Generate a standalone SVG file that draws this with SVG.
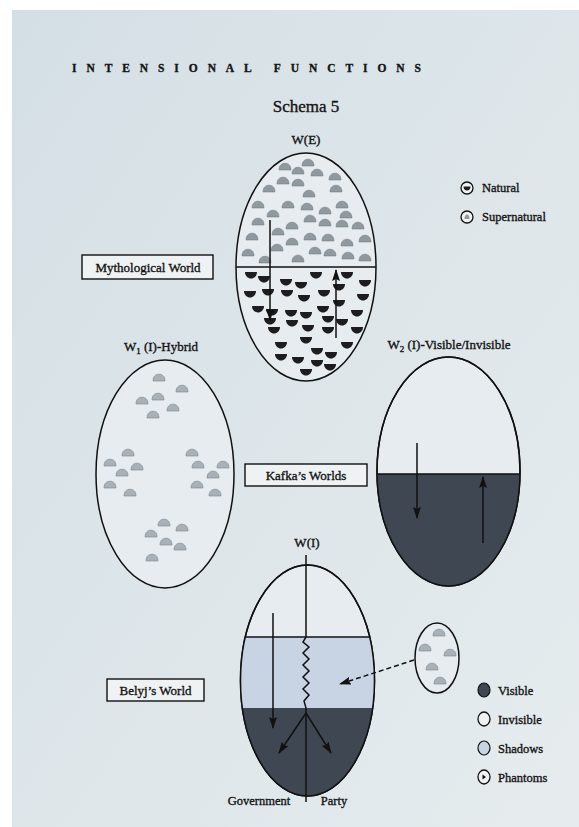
<svg xmlns="http://www.w3.org/2000/svg" width="579" height="827" viewBox="0 0 579 827">
<defs>
<linearGradient id="bg" x1="0" y1="0" x2="1" y2="1">
<stop offset="0" stop-color="#d4dfe5"/>
<stop offset="1" stop-color="#e6ecee"/>
</linearGradient>
<path id="dome" d="M-6,3 C-6,-1.5 -3.5,-3.8 0,-3.8 C3.5,-3.8 6,-1.5 6,3 Z"/>
<path id="bowl" d="M-6,-3 H6 C6,1 3,3.5 0,3.5 C-3,3.5 -6,1 -6,-3 Z"/>
<marker id="ah" viewBox="0 0 12 8" refX="11" refY="4" markerWidth="12" markerHeight="8" markerUnits="userSpaceOnUse" orient="auto">
<path d="M0,0 L12,4 L0,8 L2,4 Z" fill="#111"/>
</marker>
<clipPath id="clipW2"><ellipse cx="448.5" cy="471.5" rx="71.5" ry="114.5"/></clipPath>
<clipPath id="clipWI"><ellipse cx="307.5" cy="680.5" rx="67" ry="115.5"/></clipPath>
</defs>
<style>
.t{font-family:"Liberation Serif","Times New Roman",serif;fill:#141414;stroke:#141414;stroke-width:0.35}
.lab{font-size:13px;text-anchor:middle}
.box{fill:#eef2f3;stroke:#111;stroke-width:1.4}
.eo{fill:#e6ecef;stroke:#111;stroke-width:1.5}
.eline{fill:none;stroke:#111;stroke-width:1.5}
.sup use{fill:#8f999f;stroke:#6f787d;stroke-width:0.5}
.sup2 use{fill:#a7b1b7;stroke:#7c858a;stroke-width:0.6}
.nat use{fill:#1d1d20}
.arr{stroke:#111;stroke-width:1.5;fill:none;marker-end:url(#ah)}
.leg{font-size:12.5px}
.lc{fill:#eef2f3;stroke:#111;stroke-width:1.3}
</style>
<rect width="579" height="827" fill="#ffffff"/>
<rect x="12" y="10" width="567" height="817" fill="url(#bg)"/>

<g id="header">
<text class="t" x="72" y="72" font-size="11.5" font-weight="bold" textLength="349" lengthAdjust="spacing">INTENSIONAL   FUNCTIONS</text>
<text class="t" x="306" y="112" font-size="17" text-anchor="middle">Schema 5</text>
</g>

<g id="world-E">
<text class="t lab" x="306" y="144">W(E)</text>
<ellipse class="eo" cx="306" cy="267" rx="70" ry="114"/>
<line class="eline" x1="236" y1="267" x2="376" y2="267"/>
<g class="sup">
<use href="#dome" x="308" y="163"/><use href="#dome" x="285" y="167"/><use href="#dome" x="298" y="171"/><use href="#dome" x="317" y="173"/><use href="#dome" x="335" y="177"/><use href="#dome" x="283" y="181"/><use href="#dome" x="298" y="183"/><use href="#dome" x="269" y="189"/><use href="#dome" x="309" y="194"/><use href="#dome" x="336" y="189"/><use href="#dome" x="258" y="205"/><use href="#dome" x="288" y="205"/><use href="#dome" x="307" y="207"/><use href="#dome" x="325" y="211"/><use href="#dome" x="342" y="205"/><use href="#dome" x="273" y="214"/><use href="#dome" x="346" y="215"/><use href="#dome" x="258" y="222"/><use href="#dome" x="292" y="226"/><use href="#dome" x="310" y="219"/><use href="#dome" x="325" y="223"/><use href="#dome" x="342" y="224"/><use href="#dome" x="358" y="226"/><use href="#dome" x="278" y="232"/><use href="#dome" x="252" y="237"/><use href="#dome" x="310" y="237"/><use href="#dome" x="328" y="238"/><use href="#dome" x="347" y="243"/><use href="#dome" x="365" y="239"/><use href="#dome" x="292" y="242"/><use href="#dome" x="277" y="248"/><use href="#dome" x="248" y="253"/><use href="#dome" x="315" y="251"/><use href="#dome" x="330" y="253"/><use href="#dome" x="348" y="256"/><use href="#dome" x="265" y="260"/><use href="#dome" x="298" y="259"/><use href="#dome" x="365" y="258"/>
</g>
<g class="nat">
<use href="#bowl" x="251" y="275"/><use href="#bowl" x="264" y="279"/><use href="#bowl" x="286" y="282"/><use href="#bowl" x="301" y="285"/><use href="#bowl" x="316" y="275"/><use href="#bowl" x="347" y="275"/><use href="#bowl" x="365" y="283"/><use href="#bowl" x="250" y="294"/><use href="#bowl" x="268" y="292"/><use href="#bowl" x="287" y="293"/><use href="#bowl" x="304" y="298"/><use href="#bowl" x="324" y="293"/><use href="#bowl" x="339" y="287"/><use href="#bowl" x="363" y="297"/><use href="#bowl" x="258" y="309"/><use href="#bowl" x="272" y="312"/><use href="#bowl" x="291" y="313"/><use href="#bowl" x="306" y="315"/><use href="#bowl" x="323" y="309"/><use href="#bowl" x="339" y="303"/><use href="#bowl" x="357" y="313"/><use href="#bowl" x="270" y="321"/><use href="#bowl" x="292" y="323"/><use href="#bowl" x="308" y="328"/><use href="#bowl" x="328" y="319"/><use href="#bowl" x="342" y="322"/><use href="#bowl" x="274" y="330"/><use href="#bowl" x="328" y="330"/><use href="#bowl" x="357" y="330"/><use href="#bowl" x="306" y="340"/><use href="#bowl" x="281" y="345"/><use href="#bowl" x="317" y="351"/><use href="#bowl" x="331" y="355"/><use href="#bowl" x="347" y="345"/><use href="#bowl" x="281" y="357"/><use href="#bowl" x="298" y="360"/><use href="#bowl" x="317" y="363"/><use href="#bowl" x="330" y="367"/><use href="#bowl" x="306" y="372"/>
</g>
</g>

<g id="legend-top">
<circle class="lc" cx="467" cy="188" r="6"/>
<path d="M463.5,186.5 H470.5 C470.5,189 469,190.5 467,190.5 C465,190.5 463.5,189 463.5,186.5 Z" fill="#1d1d20"/>
<text class="t leg" x="482" y="192">Natural</text>
<circle class="lc" cx="467" cy="217" r="6"/>
<path d="M464.5,219 C464.5,216 465.5,214.5 467,214.5 C468.5,214.5 469.5,216 469.5,219 Z" fill="#8f999f"/>
<text class="t leg" x="482" y="221">Supernatural</text>
</g>

<g id="label-mythological">
<rect class="box" x="82" y="255" width="131" height="24"/>
<text class="t" x="148" y="272" font-size="13" text-anchor="middle">Mythological World</text>
</g>

<g id="world-W1">
<text class="t lab" x="161" y="351">W<tspan font-size="9" dy="3">1</tspan><tspan dy="-3"> (I)-Hybrid</tspan></text>
<ellipse class="eo" cx="165" cy="474" rx="69" ry="114"/>
<g class="sup2">
<use href="#dome" x="159" y="378"/><use href="#dome" x="182" y="389"/><use href="#dome" x="142" y="401"/><use href="#dome" x="158" y="397"/><use href="#dome" x="173" y="408"/><use href="#dome" x="153" y="415"/><use href="#dome" x="128" y="453"/><use href="#dome" x="110" y="463"/><use href="#dome" x="122" y="473"/><use href="#dome" x="137" y="467"/><use href="#dome" x="110" y="485"/><use href="#dome" x="130" y="493"/><use href="#dome" x="192" y="453"/><use href="#dome" x="198" y="465"/><use href="#dome" x="223" y="465"/><use href="#dome" x="213" y="475"/><use href="#dome" x="197" y="485"/><use href="#dome" x="215" y="493"/><use href="#dome" x="164" y="523"/><use href="#dome" x="182" y="528"/><use href="#dome" x="151" y="534"/><use href="#dome" x="166" y="542"/><use href="#dome" x="180" y="547"/><use href="#dome" x="152" y="558"/>
</g>
</g>

<g id="world-W2">
<text class="t lab" x="449" y="349">W<tspan font-size="9" dy="3">2</tspan><tspan dy="-3"> (I)-Visible/Invisible</tspan></text>
<ellipse class="eo" cx="448.5" cy="471.5" rx="71.5" ry="114.5"/>
<rect x="370" y="474" width="160" height="120" fill="#3f4752" clip-path="url(#clipW2)"/>
<line class="eline" x1="377" y1="474" x2="520" y2="474" clip-path="url(#clipW2)"/>
<ellipse cx="448.5" cy="471.5" rx="71.5" ry="114.5" fill="none" stroke="#111" stroke-width="1.5"/>
</g>

<g id="label-kafka">
<rect class="box" x="245" y="464" width="122" height="22"/>
<text class="t" x="306" y="480" font-size="13" text-anchor="middle">Kafka’s Worlds</text>
</g>

<g id="world-I">
<text class="t lab" x="307" y="547">W(I)</text>
<ellipse class="eo" cx="307.5" cy="680.5" rx="67" ry="115.5"/>
<rect x="238" y="637" width="140" height="71" fill="#c8d3e4" clip-path="url(#clipWI)"/>
<rect x="238" y="708" width="140" height="90" fill="#3f4752" clip-path="url(#clipWI)"/>
<line class="eline" x1="238" y1="637" x2="378" y2="637" clip-path="url(#clipWI)"/>
<ellipse cx="307.5" cy="680.5" rx="67" ry="115.5" fill="none" stroke="#111" stroke-width="1.5"/>
<polyline class="eline" points="306,555 306,637 303,642 309,647 303,653 309,659 303,665 309,671 303,677 309,683 303,689 309,695 304,701 306,708 306,802"/>
<text class="t" x="259" y="805" font-size="12.5" text-anchor="middle">Government</text>
<text class="t" x="334" y="805" font-size="12.5" text-anchor="middle">Party</text>
</g>

<g id="label-belyj">
<rect class="box" x="107" y="679" width="97" height="22"/>
<text class="t" x="155.5" y="695" font-size="13" text-anchor="middle">Belyj’s World</text>
</g>

<g id="phantoms">
<ellipse class="eo" cx="437" cy="658" rx="22" ry="35"/>
<g class="sup2">
<use href="#dome" x="439" y="633"/><use href="#dome" x="425" y="648"/><use href="#dome" x="450" y="653"/><use href="#dome" x="432" y="667"/><use href="#dome" x="440" y="681"/>
</g>
</g>

<g id="legend-bottom">
<ellipse cx="484" cy="690" rx="6" ry="7" fill="#3f4752" stroke="#111" stroke-width="1.2"/>
<text class="t leg" x="498" y="695">Visible</text>
<ellipse class="lc" cx="484" cy="719" rx="6" ry="7"/>
<text class="t leg" x="498" y="724">Invisible</text>
<ellipse cx="484" cy="748" rx="6" ry="7" fill="#c8d3e4" stroke="#111" stroke-width="1.2"/>
<text class="t leg" x="498" y="753">Shadows</text>
<ellipse class="lc" cx="484" cy="777" rx="6" ry="7"/>
<path d="M482.5,774.5 L486,777 L482.5,779.5 Z" fill="#111"/>
<text class="t leg" x="498" y="782">Phantoms</text>
</g>

<g id="connectors">
<line class="arr" x1="270" y1="220" x2="270" y2="320"/>
<line class="arr" x1="336" y1="338" x2="336" y2="270"/>
<line class="arr" x1="417" y1="443" x2="417" y2="518"/>
<line class="arr" x1="483" y1="543" x2="483" y2="477"/>
<line class="arr" x1="273" y1="613" x2="273" y2="728"/>
<line class="arr" x1="306" y1="713" x2="279" y2="753"/>
<line class="arr" x1="306" y1="713" x2="331" y2="753"/>
<line class="arr" x1="414" y1="660" x2="340" y2="684" stroke-dasharray="5,3"/>
</g>
</svg>
